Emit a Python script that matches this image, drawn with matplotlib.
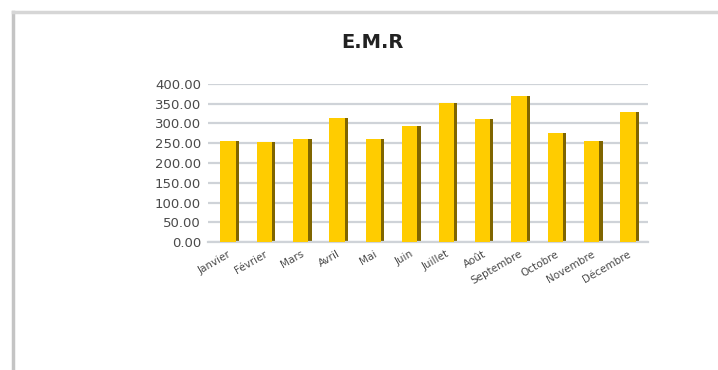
import matplotlib
matplotlib.use("Agg")
import matplotlib.pyplot as plt
import numpy as np
from matplotlib.lines import Line2D

months = ["Janvier", "Février", "Mars", "Avril", "Mai", "Juin", "Juillet",
          "Août", "Septembre", "Octobre", "Novembre", "Décembre"]
values = [256, 254, 262, 315, 262, 293, 353, 311, 370, 276, 256, 328]
yticks = [0, 50, 100, 150, 200, 250, 300, 350, 400]

fig = plt.figure(figsize=(7.18, 3.70), dpi=100)
fig.patch.set_facecolor("white")

# outer frame (left and top border)
fig.add_artist(Line2D([13/718, 13/718], [0, 1 - 12/370], transform=fig.transFigure,
                      color="#c4c4c4", lw=2.5))
fig.add_artist(Line2D([13/718, 1], [1 - 12/370, 1 - 12/370], transform=fig.transFigure,
                      color="#d6d6d6", lw=2.5))

ax = fig.add_axes([208/718, 1 - 242/370, (648 - 208)/718, (242 - 84)/370])
x = np.arange(len(months))
ax.set_xlim(-0.55, len(months) - 0.45)
ax.set_ylim(0, 400)

ax.bar(x + 0.22, values, width=0.16, color="#7f6500", zorder=2)
ax.bar(x, values, width=0.42, color="#ffcc00", zorder=3)

ax.set_yticks(yticks)
ax.set_yticklabels([f"{v:.2f}" for v in yticks], fontsize=9.5, color="#4a4a4a")
ax.yaxis.grid(True, color="#cfd3d8", lw=1.6, zorder=0)
ax.set_axisbelow(True)
ax.set_xticks(x)
ax.set_xticklabels(months, rotation=30, ha="right", fontsize=7.5, color="#4a4a4a",
                   rotation_mode="anchor")
ax.tick_params(axis="both", length=0, pad=5)
for s in ["top", "right", "left"]:
    ax.spines[s].set_visible(False)
ax.spines["bottom"].set_color("#cfd3d8")
ax.spines["bottom"].set_linewidth(1.6)

fig.text(372/718, 1 - 42/370, "E.M.R", ha="center", va="center", fontsize=14,
         fontweight="bold", color="#222222")

fig.savefig("out.png", dpi=100)
